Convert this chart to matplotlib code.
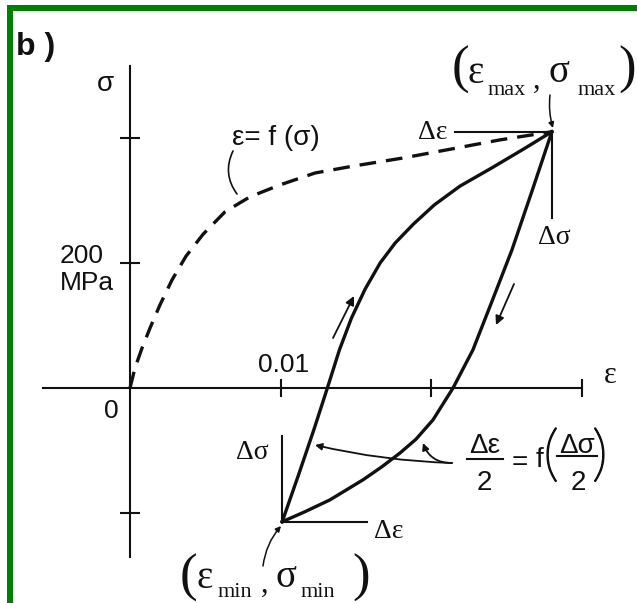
import matplotlib
matplotlib.use("Agg")
import matplotlib.pyplot as plt
import matplotlib.patheffects as pe
from matplotlib.patches import Rectangle

# ---- data -----------------------------------------------------------------
# monotonic curve  eps = f(sigma)   (strain, stress in MPa)
mono_eps = [0.0, 0.00033, 0.0008, 0.00133, 0.00199, 0.00279, 0.00372, 0.00485,
            0.00631, 0.00797, 0.00996, 0.01228, 0.0148, 0.01812, 0.02124,
            0.02456, 0.0280]
mono_sig = [0, 32, 64, 96, 133, 173, 211, 246, 282, 306, 325, 344, 355, 368,
            382, 397, 410]

# hysteresis loop, loading branch (min -> max)
load_eps = [0.0101, 0.0112, 0.0122, 0.0131, 0.0139, 0.0147, 0.0156, 0.0166,
            0.0176, 0.0188, 0.0202, 0.0219, 0.0240, 0.0261, 0.0280]
load_sig = [-214, -138, -67, 0, 61, 112, 158, 200, 232, 262, 293, 323, 352,
            382, 410]

# hysteresis loop, unloading branch (max -> min)
unload_eps = [0.0280, 0.02668, 0.02535, 0.02403, 0.02276, 0.02144, 0.02011,
              0.01898, 0.01792, 0.01672, 0.01546, 0.01327, 0.01161, 0.0101]
unload_sig = [410, 315, 221, 139, 61, 0, -51, -82, -104, -126, -147, -179,
              -198, -214]

x_ticks = [0.01, 0.02, 0.03]
y_ticks = [-200, 200, 400]

# ---- figure ---------------------------------------------------------------
W, H = 637, 603
INK = "#111111"
SANS = "Liberation Sans"
SERIF = "Liberation Serif"

fig = plt.figure(figsize=(W / 100, H / 100), dpi=100)
fig.patch.set_facecolor("white")
ax = fig.add_axes([0, 0, 1, 1])
ax.set_xlim(-0.008628, 0.033650)
ax.set_ylim(-344.0, 620.8)
ax.patch.set_visible(False)

# axes crossing at the origin
for side in ("top", "right"):
    ax.spines[side].set_visible(False)
ax.spines["left"].set_position(("data", 0))
ax.spines["bottom"].set_position(("data", 0))
ax.spines["left"].set_bounds(-270, 515)
ax.spines["bottom"].set_bounds(-0.00577, 0.030)
for side in ("left", "bottom"):
    ax.spines[side].set_linewidth(1.5)
    ax.spines[side].set_color(INK)
ax.set_xticks(x_ticks)
ax.set_yticks(y_ticks)
ax.tick_params(axis="x", direction="inout", length=12.5, width=1.5,
               color=INK, labelbottom=False)
ax.tick_params(axis="y", direction="inout", length=14.5, width=1.5,
               color=INK, labelleft=False)

# curves
ax.plot(mono_eps, mono_sig, color=INK, lw=2.4, dashes=(5, 3),
        solid_capstyle="round")
ax.plot(load_eps, load_sig, color=INK, lw=2.4, solid_joinstyle="round")
ax.plot(unload_eps, unload_sig, color=INK, lw=2.4, solid_joinstyle="round")

eps_max, sig_max = load_eps[-1], load_sig[-1]
eps_min, sig_min = load_eps[0], load_sig[0]

# range brackets at the loop tips
ax.plot([eps_max - 0.0064, eps_max], [sig_max, sig_max], color=INK, lw=1.5)
ax.plot([eps_max, eps_max], [sig_max, sig_max - 138], color=INK, lw=1.5)
ax.plot([eps_min, eps_min + 0.0056], [sig_min, sig_min], color=INK, lw=1.5)
ax.plot([eps_min, eps_min], [sig_min, sig_min + 138], color=INK, lw=1.5)


def fp(x, y):
    """pixel position (from top-left) -> figure fraction"""
    return (x / W, 1 - y / H)


def txt(x, y, s, size, family=SANS, ha="center", va="baseline", **kw):
    return fig.text(*fp(x, y), s, fontsize=size, family=family, ha=ha,
                    va=va, color=INK, **kw)


def arrow(p0, p1, rad=0.0, head=True, lw=1.3, scale=10):
    ax.annotate("", xy=fp(*p1), xycoords="figure fraction",
                xytext=fp(*p0), textcoords="figure fraction",
                arrowprops=dict(arrowstyle="-|>" if head else "-",
                                color=INK, lw=lw, mutation_scale=scale,
                                shrinkA=0, shrinkB=0,
                                connectionstyle=f"arc3,rad={rad}"))


# direction arrows along the loop
arrow((333, 338), (354, 296), scale=13)
arrow((514, 284), (496, 325), scale=13)

# leaders
arrow((233, 151), (237, 194), rad=0.3, head=False, lw=1.2)
arrow((550, 95), (553, 128), rad=0.1, lw=1.1, scale=8)
arrow((263, 566), (281, 526), rad=-0.15, lw=1.1, scale=8)
arrow((452, 463), (315, 445), rad=-0.05, lw=1.3, scale=10)
arrow((452, 463), (423, 443), rad=-0.35, lw=1.3, scale=10)

# panel letter and axis labels
txt(16, 55, "b )", 23, ha="left", weight="bold")
txt(105, 91, "σ", 20)
txt(610, 383, "ε", 22, family=SERIF)
txt(60, 263, "200", 19, ha="left")
txt(60, 290, "MPa", 19, ha="left")
txt(284, 372, "0.01", 19)
txt(111, 418, "0", 19)
txt(232, 145, "ε= f (σ)", 20, ha="left")

# (eps_max, sigma_max)
txt(460, 83, "(", 38, family=SERIF)
txt(476, 83, "ε", 28, family=SERIF)
txt(507, 95, "max", 16, family=SERIF)
txt(537, 88, ",", 22, family=SERIF)
txt(559, 82, "σ", 28, family=SERIF)
txt(597, 95, "max", 16, family=SERIF)
txt(627, 83, ")", 38, family=SERIF)

# (eps_min, sigma_min)
txt(188, 591, "(", 38, family=SERIF)
txt(205, 588, "ε", 28, family=SERIF)
txt(235, 597, "min", 16, family=SERIF)
txt(265, 592, ",", 22, family=SERIF)
txt(286, 587, "σ", 28, family=SERIF)
txt(318, 597, "min", 16, family=SERIF)
txt(361, 591, ")", 38, family=SERIF)

# range labels
txt(433, 139, "Δε", 20, family=SERIF)
txt(554, 244, "Δσ", 20, family=SERIF)
txt(252, 459, "Δσ", 20, family=SERIF)
txt(389, 538, "Δε", 20, family=SERIF)

# Δε/2 = f(Δσ/2)
txt(485, 453, "Δε", 20)
txt(484, 490, "2", 20)
txt(520, 470, "=", 20)
txt(540, 467, "f", 20)
txt(577, 453, "Δσ", 20)
txt(578, 490, "2", 20)
for xp, ch in ((551, "("), (600, ")")):
    t = txt(xp, 474, ch, 44, family=["Lato", SANS], weight="light")
    t.set_path_effects([pe.withStroke(linewidth=1.2, foreground=INK)])
for x0, x1, y in ((467, 503, 459), (557, 597, 456)):
    fig.add_artist(plt.Line2D([x0 / W, x1 / W], [1 - y / H, 1 - y / H],
                              transform=fig.transFigure, color=INK, lw=1.5))

# frame edges
fig.add_artist(Rectangle(fp(7, 11), (W - 7) / W, 6 / H,
                         transform=fig.transFigure, color="#008000", lw=0))
fig.add_artist(Rectangle(fp(7, H), 6 / W, (H - 5) / H,
                         transform=fig.transFigure, color="#008000", lw=0))

fig.savefig("out.png", dpi=100, facecolor="white")
